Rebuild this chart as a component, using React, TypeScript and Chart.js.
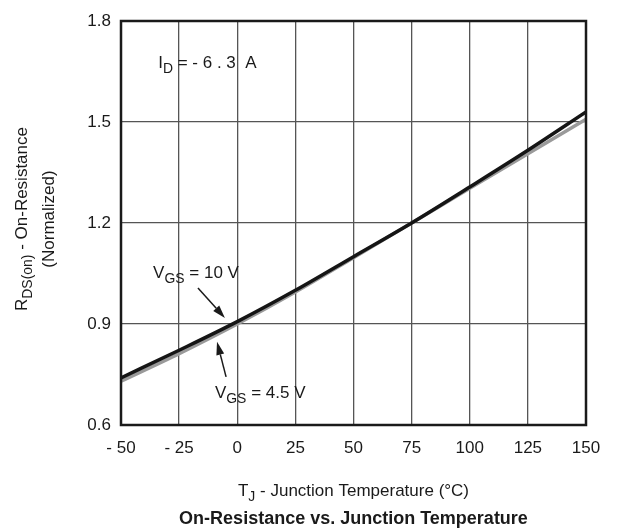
import React, { useEffect, useRef } from "react";
import { Chart, registerables } from "chart.js";

Chart.register(...registerables);

// ---- data ----
const temperatures = [-50, -25, 0, 25, 50, 75, 100, 125, 150];
const rdsVgs10 = [0.74, 0.822, 0.907, 1.0, 1.1, 1.2, 1.307, 1.416, 1.53];
const rdsVgs45 = [0.73, 0.812, 0.9, 0.995, 1.097, 1.2, 1.303, 1.406, 1.508];
const xTicks = [-50, -25, 0, 25, 50, 75, 100, 125, 150];
const yTicks = [0.6, 0.9, 1.2, 1.5, 1.8];

const FONT = '"Liberation Sans", Arial, Helvetica, sans-serif';
const TICK_SIZE = 17;
const LABEL_SIZE = 17;

type Part = { t: string; sub?: boolean };

const titleX: Part[] = [{ t: "T" }, { t: "J", sub: true }, { t: " - Junction Temperature (°C)" }];
const titleY1: Part[] = [{ t: "R" }, { t: "DS(on)", sub: true }, { t: " - On-Resistance" }];
const titleY2: Part[] = [{ t: "(Normalized)" }];
const chartTitle = "On-Resistance vs. Junction Temperature";

const labelId: Part[] = [{ t: "I" }, { t: "D", sub: true }, { t: " = - 6 . 3  A" }];
const label10: Part[] = [{ t: "V" }, { t: "GS", sub: true }, { t: " = 10 V" }];
const label45: Part[] = [{ t: "V" }, { t: "GS", sub: true }, { t: " = 4.5 V" }];

// annotation anchors in data coordinates (temperature, normalized R)
const labelIdAt = { x: -34, y: 1.678 };
const label10At = { x: -36.2, y: 1.054 };
const label45At = { x: -9.6, y: 0.698 };
const arrow10 = { from: { x: -16.9, y: 1.007 }, to: { x: -5.3, y: 0.918 } };
const arrow45 = { from: { x: -4.8, y: 0.743 }, to: { x: -8.7, y: 0.847 } };

function setFont(ctx: CanvasRenderingContext2D, size: number, bold = false) {
  ctx.font = `${bold ? "bold " : ""}${size}px ${FONT}`;
}

function richWidth(ctx: CanvasRenderingContext2D, parts: Part[], size: number) {
  let w = 0;
  for (const p of parts) {
    setFont(ctx, p.sub ? size * 0.82 : size);
    w += ctx.measureText(p.t).width;
  }
  return w;
}

// y is the vertical centre of the main text
function drawRich(
  ctx: CanvasRenderingContext2D,
  parts: Part[],
  x: number,
  y: number,
  size: number,
  align: "left" | "center"
) {
  const w = richWidth(ctx, parts, size);
  let cx = align === "center" ? x - w / 2 : x;
  const base = y + size * 0.36;
  ctx.textAlign = "left";
  ctx.textBaseline = "alphabetic";
  for (const p of parts) {
    const s = p.sub ? size * 0.82 : size;
    setFont(ctx, s);
    ctx.fillText(p.t, cx, p.sub ? base + size * 0.3 : base);
    cx += ctx.measureText(p.t).width;
  }
}

function drawArrow(ctx: CanvasRenderingContext2D, x1: number, y1: number, x2: number, y2: number) {
  const ang = Math.atan2(y2 - y1, x2 - x1);
  const headLen = 13;
  const headW = 4;
  const bx = x2 - headLen * Math.cos(ang);
  const by = y2 - headLen * Math.sin(ang);
  ctx.beginPath();
  ctx.moveTo(x1, y1);
  ctx.lineTo(bx, by);
  ctx.lineWidth = 1.5;
  ctx.strokeStyle = "#1a1a1a";
  ctx.stroke();
  ctx.beginPath();
  ctx.moveTo(x2, y2);
  ctx.lineTo(bx + headW * Math.sin(ang), by - headW * Math.cos(ang));
  ctx.lineTo(bx - headW * Math.sin(ang), by + headW * Math.cos(ang));
  ctx.closePath();
  ctx.fillStyle = "#1a1a1a";
  ctx.fill();
}

const overlay = {
  id: "overlay",
  afterDraw(chart: any) {
    const { ctx, chartArea: a } = chart;
    const xs = chart.scales.x;
    const ys = chart.scales.y;
    ctx.save();
    // frame
    ctx.strokeStyle = "#1a1a1a";
    ctx.lineWidth = 2.5;
    ctx.strokeRect(a.left, a.top, a.right - a.left, a.bottom - a.top);

    ctx.fillStyle = "#1a1a1a";
    const midX = (a.left + a.right) / 2;
    const midY = (a.top + a.bottom) / 2;

    // y title (rotated)
    ctx.save();
    ctx.translate(21, midY - 4);
    ctx.rotate(-Math.PI / 2);
    drawRich(ctx, titleY1, 0, 0, LABEL_SIZE, "center");
    ctx.restore();
    ctx.save();
    ctx.translate(48, midY - 4);
    ctx.rotate(-Math.PI / 2);
    drawRich(ctx, titleY2, 0, 0, LABEL_SIZE, "center");
    ctx.restore();

    // x title
    drawRich(ctx, titleX, midX, 490, LABEL_SIZE, "center");

    // chart title
    setFont(ctx, 18, true);
    ctx.textAlign = "center";
    ctx.textBaseline = "middle";
    ctx.fillText(chartTitle, midX, 519);

    // annotations
    drawRich(ctx, labelId, xs.getPixelForValue(labelIdAt.x), ys.getPixelForValue(labelIdAt.y), LABEL_SIZE, "left");
    drawRich(ctx, label10, xs.getPixelForValue(label10At.x), ys.getPixelForValue(label10At.y), LABEL_SIZE, "left");
    drawRich(ctx, label45, xs.getPixelForValue(label45At.x), ys.getPixelForValue(label45At.y), LABEL_SIZE, "left");
    for (const ar of [arrow10, arrow45]) {
      drawArrow(
        ctx,
        xs.getPixelForValue(ar.from.x),
        ys.getPixelForValue(ar.from.y),
        xs.getPixelForValue(ar.to.x),
        ys.getPixelForValue(ar.to.y)
      );
    }
    ctx.restore();
  },
};

export default function App() {
  const ref = useRef<HTMLCanvasElement | null>(null);

  useEffect(() => {
    if (!ref.current) return;
    const chart = new Chart(ref.current, {
      type: "line",
      data: {
        datasets: [
          {
            label: "VGS = 10 V",
            data: temperatures.map((t, i) => ({ x: t, y: rdsVgs10[i] })),
            borderColor: "#151515",
            borderWidth: 3.5,
            pointRadius: 0,
            cubicInterpolationMode: "monotone",
            fill: false,
          },
          {
            label: "VGS = 4.5 V",
            data: temperatures.map((t, i) => ({ x: t, y: rdsVgs45[i] })),
            borderColor: "#9a9a9a",
            borderWidth: 3.5,
            pointRadius: 0,
            cubicInterpolationMode: "monotone",
            fill: false,
          },
        ],
      },
      options: {
        animation: false,
        responsive: false,
        devicePixelRatio: 1,
        layout: { padding: { left: 0, top: 21, right: 31, bottom: 0 } },
        plugins: {
          legend: { display: false },
          tooltip: { enabled: false },
          title: { display: false },
        },
        scales: {
          x: {
            type: "linear",
            min: -50,
            max: 150,
            afterBuildTicks: (scale: any) => {
              scale.ticks = xTicks.map((v) => ({ value: v }));
            },
            afterFit: (scale: any) => {
              scale.height = 106;
            },
            ticks: {
              color: "#1a1a1a",
              font: { family: FONT, size: TICK_SIZE },
              padding: 13,
              maxRotation: 0,
              autoSkip: false,
              callback: (v: any) => (v < 0 ? "- " + Math.abs(v) : String(v)),
            },
            grid: { color: "#555", lineWidth: 1.3, drawTicks: false },
            border: { display: false },
          },
          y: {
            type: "linear",
            min: 0.6,
            max: 1.8,
            afterBuildTicks: (scale: any) => {
              scale.ticks = yTicks.map((v) => ({ value: v }));
            },
            afterFit: (scale: any) => {
              scale.width = 121;
            },
            ticks: {
              color: "#1a1a1a",
              font: { family: FONT, size: TICK_SIZE },
              padding: 10,
              autoSkip: false,
              callback: (v: any) => Number(v).toFixed(1),
            },
            grid: { color: "#555", lineWidth: 1.3, drawTicks: false },
            border: { display: false },
          },
        },
      },
      plugins: [overlay],
    } as any);
    return () => chart.destroy();
  }, []);

  return (
    <div style={{ position: "fixed", left: 0, top: 0, width: 617, height: 531, background: "#fff" }}>
      <canvas ref={ref} width={617} height={531} style={{ display: "block" }} />
    </div>
  );
}
